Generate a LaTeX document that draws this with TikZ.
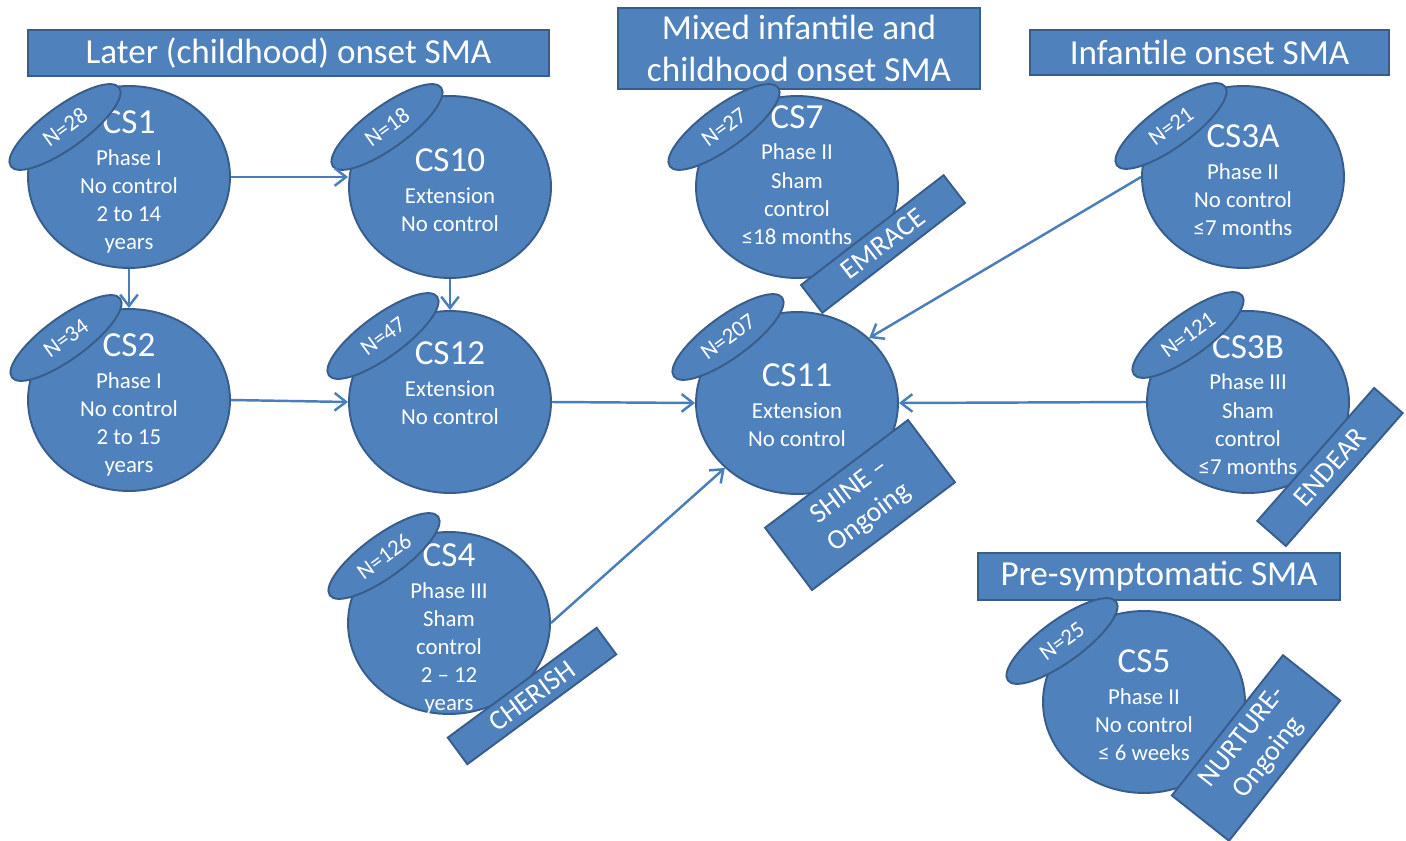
\documentclass[tikz,border=0pt]{standalone}
\usepackage{fontspec}
\setmainfont{Carlito}
\usepackage{xcolor}
\usepackage{tikz}
\usetikzlibrary{shapes.geometric,arrows.meta}
\definecolor{smablue}{HTML}{4F81BD}
\definecolor{smaedge}{HTML}{385D8A}
\definecolor{smaline}{HTML}{4A7EBB}
\tikzset{
    study/.style={
        ellipse, draw=smaedge, fill=smablue, line width=1.1pt,
        minimum width=4.04cm, minimum height=3.64cm, inner sep=0pt
    },
    studytext/.style={
        inner sep=0pt, text=white, align=center,
        font=\fontsize{13}{16}\selectfont
    },
    count/.style={
        ellipse, draw=smaedge, fill=smablue, line width=1.1pt,
        minimum width=2.68cm, minimum height=0.84cm, inner sep=0pt,
        text=white, font=\fontsize{13}{15}\selectfont, rotate=36
    },
    trial/.style={
        rectangle, draw=smaedge, fill=smablue, line width=1.1pt,
        inner sep=0pt, text=white, align=center,
        font=\fontsize{16}{19}\selectfont
    },
    group/.style={
        rectangle, draw=smaedge, fill=smablue, line width=1.6pt,
        inner sep=0pt, text=white, align=center,
        font=\fontsize{20}{24}\selectfont
    }
}
\newcommand{\cstag}[1]{{\fontsize{20}{24}\selectfont #1}}

\begin{document}
\begin{tikzpicture}[x=0.02cm, y=-0.02cm,
    flow/.style={draw=smaline, line width=1.4pt, -{Straight Barb[length=6.5pt,width=10pt]}}]
\useasboundingbox (0,0) rectangle (1406,841);

% population headings
\node[group, minimum width=10.42cm, minimum height=0.92cm] (later) at (288.5,53) {Later (childhood) onset SMA};
\node[group, minimum width=7.24cm, minimum height=1.62cm] (mixed) at (799,48.5) {Mixed infantile and\\childhood onset SMA};
\node[group, minimum width=7.18cm, minimum height=0.9cm] (infant) at (1209.5,52.5) {Infantile onset SMA};
\node[group, minimum width=7.24cm, minimum height=0.94cm] (presym) at (1159,576.5) {Pre-symptomatic SMA};

% studies
\node[study] (cs1) at (129,177) {};
\node[study] (cs10) at (450,187) {};
\node[study] (cs2) at (129,400) {};
\node[study] (cs12) at (450,402) {};
\node[study] (cs4) at (449,623) {};
\node[study] (cs7) at (797,187) {};
\node[study] (cs11) at (797,403) {};
\node[study] (cs3a) at (1243,177) {};
\node[study] (cs3b) at (1248,402) {};
\node[study] (cs5) at (1144,702) {};

\node[studytext] (t1) at (129,182) {\cstag{CS1}\\[2pt]Phase I\\No control\\2 to 14\\years};
\node[studytext] (t10) at (450,190) {\cstag{CS10}\\[2pt]Extension\\No control};
\node[studytext] (t2) at (129,405) {\cstag{CS2}\\[2pt]Phase I\\No control\\2 to 15\\years};
\node[studytext] (t12) at (450,383) {\cstag{CS12}\\[2pt]Extension\\No control};
\node[studytext] (t4) at (449,629) {\cstag{CS4}\\[2pt]Phase III\\Sham\\control\\2 -- 12\\years};
\node[studytext] (t7) at (797,175) {\cstag{CS7}\\[2pt]Phase II\\Sham\\control\\≤18 months};
\node[studytext] (t11) at (797,405) {\cstag{CS11}\\[2pt]Extension\\No control};
\node[studytext] (t3a) at (1243,180) {\cstag{CS3A}\\[2pt]Phase II\\No control\\≤7 months};
\node[studytext] (t3b) at (1248,405) {\cstag{CS3B}\\[2pt]Phase III\\Sham\\control\\≤7 months};
\node[studytext] (t5) at (1144,705) {\cstag{CS5}\\[2pt]Phase II\\No control\\≤ 6 weeks};

% sample sizes
\node[count] (n1) at (65,127) {N=28};
\node[count] (n10) at (387,127) {N=18};
\node[count] (n2) at (66,338) {N=34};
\node[count] (n12) at (383,336) {N=47};
\node[count] (n4) at (384,556) {N=126};
\node[count] (n7) at (724,127) {N=27};
\node[count] (n11) at (728,337) {N=207};
\node[count] (n3a) at (1171,126) {N=21};
\node[count] (n3b) at (1188,335) {N=121};
\node[count] (n5) at (1062,641) {N=25};

% trial names
\node[trial, minimum width=3.6cm, minimum height=0.7cm, rotate=37.6] (emrace) at (883,244) {EMRACE};
\node[trial, minimum width=3.7cm, minimum height=0.66cm, rotate=36.4] (cherish) at (532,696) {CHERISH};
\node[trial, minimum width=3.54cm, minimum height=0.76cm, rotate=48.7] (endear) at (1330,467) {ENDEAR};
\node[trial, minimum width=3.58cm, minimum height=1.56cm, rotate=37] (shine) at (860,505) {SHINE --\\Ongoing};
\node[trial, minimum width=3.58cm, minimum height=1.46cm, rotate=51.6] (nurture) at (1256,748) {NURTURE-\\Ongoing};

% roll-over
\draw[flow] (cs1.east) -- (cs1.east -| cs10.west);
\draw[flow] (cs1.south) -- (cs2.north);
\draw[flow] (cs10.south) -- (cs12.north);
\draw[flow] (cs2.east) -- (cs12.west);
\draw[flow] (cs12.east) -- (cs11.west);
\draw[flow] (cs4.east) -- (cs11.222);
\draw[flow] (cs3a.west) -- (cs11.42);
\draw[flow] (cs3b.west) -- (cs11.east);
\end{tikzpicture}
\end{document}
